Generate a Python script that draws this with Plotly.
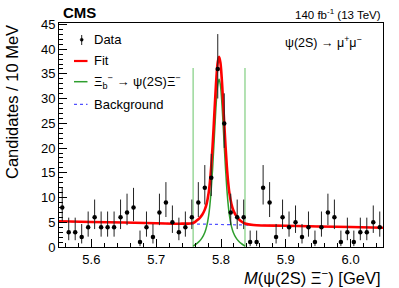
import numpy as np
import plotly.graph_objects as go

# ---------------- data ----------------
bin_centers = [5.555, 5.565, 5.575, 5.585, 5.595, 5.605, 5.615, 5.625, 5.635, 5.645,
               5.655, 5.665, 5.675, 5.685, 5.695, 5.705, 5.715, 5.725, 5.735, 5.745,
               5.755, 5.765, 5.775, 5.785, 5.795, 5.805, 5.815, 5.825, 5.835, 5.845,
               5.855, 5.865, 5.875, 5.885, 5.895, 5.905, 5.915, 5.925, 5.935, 5.945,
               5.955, 5.965, 5.975, 5.985, 5.995, 6.005, 6.015, 6.025, 6.035, 6.045]
counts = [8, 3, 3, 2, 4, 6, 4, 4, 4, 6,
          7, 8, 1, 4, 2, 7, 9, 5, 3, 4,
          6, 9, 12, 14, 36, 25, 7, 6, 6, 1,
          1, 12, 9, 2, 6, 4, 5, 2, 4, 1,
          4, 7, 6, 1, 3, 1, 3, 3, 5, 4]

# total fit curve
fit_x = [5.550, 5.600, 5.650, 5.700, 5.740, 5.757, 5.763, 5.767, 5.771, 5.775,
         5.778, 5.781, 5.783, 5.785, 5.787, 5.789, 5.791, 5.793, 5.795, 5.797,
         5.799, 5.801, 5.803, 5.805, 5.807, 5.809, 5.811, 5.813, 5.816, 5.819,
         5.823, 5.827, 5.831, 5.837, 5.850, 5.900, 5.950, 6.000, 6.050]
fit_y = [5.20, 5.07, 4.94, 4.81, 4.72, 4.86, 5.39, 5.86, 6.53, 7.56,
         8.83, 10.99, 13.25, 16.39, 20.38, 25.08, 29.97, 34.37, 37.36, 38.46,
         37.35, 34.35, 29.94, 25.04, 20.33, 16.33, 13.18, 10.91, 8.73, 7.44,
         6.39, 5.70, 5.21, 4.75, 4.44, 4.29, 4.16, 4.03, 3.90]

# signal component
sig_x = [5.757, 5.763, 5.767, 5.771, 5.775, 5.778, 5.781, 5.783, 5.785, 5.787,
         5.789, 5.791, 5.793, 5.795, 5.797, 5.799, 5.801, 5.803, 5.805, 5.807,
         5.809, 5.811, 5.813, 5.816, 5.819, 5.823, 5.827, 5.831, 5.837]
sig_y = [0.2, 0.74, 1.22, 1.9, 2.94, 4.22, 6.39, 8.66, 11.8, 15.8,
         20.5, 25.4, 29.8, 32.8, 33.9, 32.8, 29.8, 25.4, 20.5, 15.8,
         11.8, 8.66, 6.39, 4.22, 2.94, 1.9, 1.22, 0.74, 0.2]

# background component
bkg_x = [5.55, 6.05]
bkg_y = [5.20, 3.90]

# signal window markers
window_x = [5.757, 5.837]
window_top = 36.2

x_range = [5.55, 6.05]
y_range = [0, 45.3]

# ---------------- figure ----------------
FONT = "Liberation Sans, Arial, Helvetica, sans-serif"
W, H = 399, 288
ML, MR, MT, MB = 59, 16, 23, 41
PW, PH = W - ML - MR, H - MT - MB


def px(xp):
    return (xp - ML) / PW


def py(yp):
    return (H - MB - yp) / PH


n = np.array(counts, dtype=float)
err_up = np.sqrt(n + 0.75) + 1.0
err_lo = n - n * (1 - 1 / (9 * n) - 1 / (3 * np.sqrt(n))) ** 3

fig = go.Figure()

for wx in window_x:
    fig.add_trace(go.Scatter(x=[wx, wx], y=[0, window_top], mode="lines",
                             line=dict(color="#9ad89a", width=1.5),
                             showlegend=False, hoverinfo="skip"))

fig.add_trace(go.Scatter(x=bkg_x, y=bkg_y, mode="lines",
                         line=dict(color="#5050ff", width=1.2, dash="dot"),
                         showlegend=False))
fig.add_trace(go.Scatter(x=sig_x, y=sig_y, mode="lines",
                         line=dict(color="#2e9e2e", width=1.5, shape="spline"),
                         showlegend=False))
fig.add_trace(go.Scatter(x=fit_x, y=fit_y, mode="lines",
                         line=dict(color="#ff0000", width=2.6, shape="spline"),
                         showlegend=False))
fig.add_trace(go.Scatter(x=bin_centers, y=counts, mode="markers",
                         marker=dict(color="black", size=4.5),
                         error_y=dict(type="data", symmetric=False,
                                      array=err_up, arrayminus=err_lo,
                                      color="#222222", thickness=1, width=0),
                         showlegend=False))

axis_common = dict(showline=True, linecolor="black", linewidth=1, mirror=True,
                   ticks="inside", tickcolor="black", showgrid=False, zeroline=False,
                   tickfont=dict(family=FONT, size=13, color="black"))

fig.update_xaxes(range=x_range, tick0=5.6, dtick=0.1, ticklen=8, tickformat=".1f",
                 minor=dict(ticks="inside", tick0=5.6, dtick=0.02, ticklen=4,
                            tickcolor="black", showgrid=False),
                 **axis_common)
fig.update_yaxes(range=y_range, tick0=0, dtick=5, ticklen=8,
                 minor=dict(ticks="inside", tick0=0, dtick=1, ticklen=4,
                            tickcolor="black", showgrid=False),
                 **axis_common)

ann = []
ann.append(dict(text="<b>CMS</b>", x=px(60.5), y=py(12.7), xanchor="left", yanchor="middle",
                font=dict(family=FONT, size=15, color="black")))
ann.append(dict(text="140 fb<sup>-1</sup> (13 TeV)", x=1.0, y=py(14), xanchor="right",
                yanchor="middle", font=dict(family=FONT, size=11.5, color="black")))
ann.append(dict(text="ψ(2S) → μ<sup>+</sup>μ<sup>−</sup>", x=px(282.7), y=py(41.7),
                xanchor="left", yanchor="middle", font=dict(family=FONT, size=12.5, color="black")))
ann.append(dict(text="Candidates / 10 MeV", x=px(12), y=1.0, xanchor="center", yanchor="top",
                textangle=-90, font=dict(family=FONT, size=16.5, color="black")))
ann.append(dict(text="<i>M</i>(ψ(2S) Ξ<sup>−</sup>) [GeV]", x=1.0, y=py(277), xanchor="right",
                yanchor="middle", font=dict(family=FONT, size=16.5, color="black")))

legend_labels = ["Data", "Fit", "Ξ<sub>b</sub><sup>−</sup> → ψ(2S)Ξ<sup>−</sup>", "Background"]
legend_ys = [39.7, 61.0, 81.7, 104.3]
for lab, ly in zip(legend_labels, legend_ys):
    ann.append(dict(text=lab, x=px(91.5), y=py(ly), xanchor="left", yanchor="middle",
                    font=dict(family=FONT, size=13, color="black")))
for a in ann:
    a.update(xref="paper", yref="paper", showarrow=False)

shapes = []
# legend symbols
shapes.append(dict(type="line", x0=px(81.7), x1=px(81.7), y0=py(35), y1=py(45),
                   line=dict(color="#222222", width=1)))
shapes.append(dict(type="circle", x0=px(80.2), x1=px(83.2), y0=py(38.2), y1=py(41.2),
                   fillcolor="black", line=dict(color="black", width=0.5)))
shapes.append(dict(type="line", x0=px(74), x1=px(87.5), y0=py(61), y1=py(61),
                   line=dict(color="#ff0000", width=2.2)))
shapes.append(dict(type="line", x0=px(74), x1=px(87.5), y0=py(81.7), y1=py(81.7),
                   line=dict(color="#2e9e2e", width=1.5)))
shapes.append(dict(type="line", x0=px(74), x1=px(87.5), y0=py(104.3), y1=py(104.3),
                   line=dict(color="#5050ff", width=1.2, dash="dot")))
for s in shapes:
    s.update(xref="paper", yref="paper")

fig.update_layout(width=W, height=H, margin=dict(l=ML, r=MR, t=MT, b=MB),
                  paper_bgcolor="white", plot_bgcolor="white",
                  annotations=ann, shapes=shapes, showlegend=False)

fig.write_html("out.html", config={"displayModeBar": False},
               post_script="document.body.style.margin='0';document.body.style.overflow='hidden';")
